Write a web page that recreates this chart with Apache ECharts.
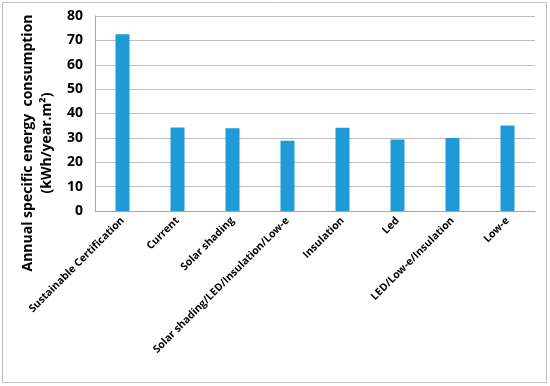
<!DOCTYPE html>
<html><head><meta charset="utf-8">
<script src="https://cdn.jsdelivr.net/npm/echarts@6/dist/echarts.min.js"></script>
<style>html,body{margin:0;padding:0;background:#fff}#c{width:550px;height:386px}</style>
</head><body><div id="c"></div>
<script>
const categories = ["Sustainable Certification","Current","Solar shading","Solar shading/LED/Insulation/Low-e","Insulation","Led","LED/Low-e/Insulation","Low-e"];
const values = [72.5, 34.3, 34.0, 28.8, 34.2, 29.3, 29.9, 35.1];
const yTicks = [0,10,20,30,40,50,60,70,80];
const yTitle1 = "Annual specific energy  consumption";
const yTitle2 = "(kWh/year.m²)";

const chart = echarts.init(document.getElementById('c'));
chart.setOption({
  animation:false,
  grid:{left:95,right:15,top:16,bottom:175,containLabel:false},
  xAxis:{type:'category',data:categories,
    axisLine:{lineStyle:{color:'#a6a6a6'}},axisTick:{show:false},
    axisLabel:{interval:0,rotate:45,color:'#000',fontFamily:'Open Sans',fontWeight:'bold',fontSize:10.5,margin:8}},
  yAxis:{type:'value',min:yTicks[0],max:yTicks[yTicks.length-1],interval:10,
    axisLine:{show:true,lineStyle:{color:'#a6a6a6'}},axisTick:{show:false},
    splitLine:{lineStyle:{color:'#bfbfbf',width:1}},
    axisLabel:{color:'#000',fontFamily:'Open Sans',fontWeight:'bold',fontSize:14,margin:12}},
  series:[{type:'bar',data:values,barWidth:14,itemStyle:{color:'#1e9bd7'}}],
  graphic:[
    {type:'rect',shape:{x:2.5,y:2.5,width:544,height:380},style:{fill:'none',stroke:'#bfbfbf',lineWidth:1}},
    {type:'text',x:28,y:143,rotation:Math.PI/2,style:{text:yTitle1,font:'bold 14px "Open Sans"',fill:'#000',align:'center',verticalAlign:'middle'}},
    {type:'text',x:47,y:143,rotation:Math.PI/2,style:{text:yTitle2,font:'bold 14px "Open Sans"',fill:'#000',align:'center',verticalAlign:'middle'}}
  ]
});
</script></body></html>
